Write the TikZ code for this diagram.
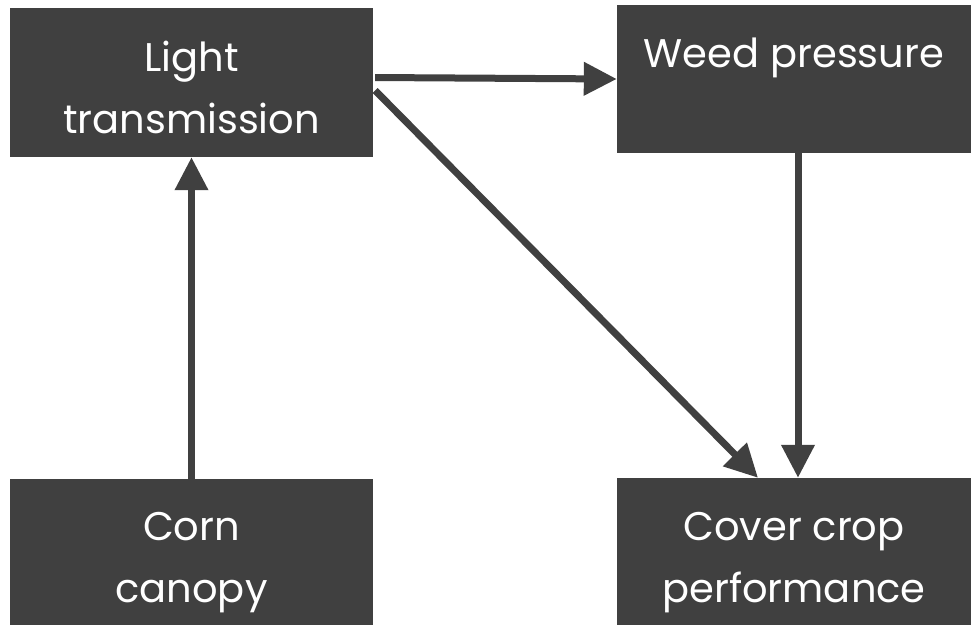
\documentclass[tikz,border=0pt]{standalone}
\usepackage{fontspec}
\setmainfont{Poppins}
\usepackage{tikz}
\usetikzlibrary{arrows.meta, positioning}

\definecolor{boxgray}{HTML}{404040}

\begin{document}
\begin{tikzpicture}[>={Triangle[length=33pt, width=32pt]}, x=1pt, y=-1pt,
    box/.style={fill=boxgray, text=white, inner sep=0pt, align=center,
      minimum height=148pt, text height=101pt, text depth=0pt,
      font=\fontsize{40}{62}\selectfont},
    link/.style={->, line width=7pt, draw=boxgray}]
            \useasboundingbox (0,0) rectangle (971,625);
            % boxes
            \node[box, minimum width=363pt, minimum height=149pt] (light) at (191.5, 82.5) {Light\\transmission};
            \node[box, minimum width=354pt] (weed) at (794, 79) {Weed pressure\\\mbox{}};
            \node[box, minimum width=363pt, minimum height=146pt] (corn) at (191.5, 552) {Corn\\canopy};
            \node[box, minimum width=354pt, minimum height=147pt] (cover) at (794, 551.5) {Cover crop\\performance};

            % arrows
            \draw[link] ([xshift=2pt, yshift=5pt]light.east) -- (weed.west);
            \draw[link] ([xshift=2pt, yshift=-8pt]light.east) -- ([xshift=-36pt]cover.north);
            \draw[link] ([xshift=4pt]weed.south) -- ([xshift=4pt]cover.north);
            \draw[link] (corn.north) -- (light.south);
\end{tikzpicture}
\end{document}
